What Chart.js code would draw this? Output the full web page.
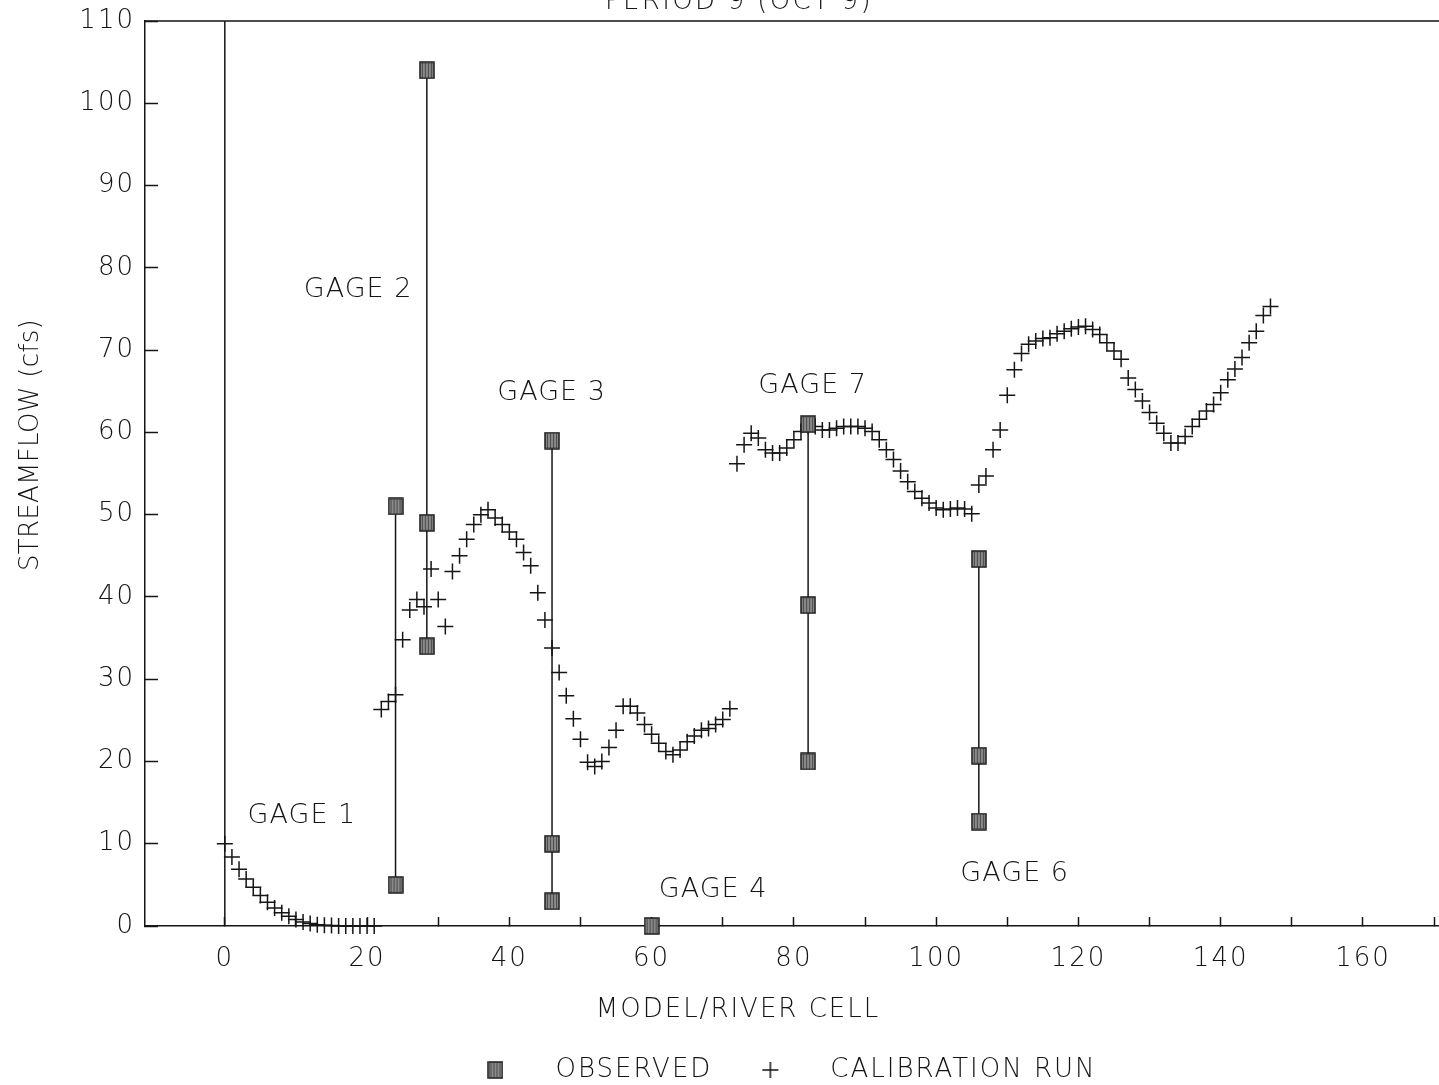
<!DOCTYPE html>
<html><head><meta charset="utf-8">
<script src="https://cdn.jsdelivr.net/npm/chart.js@4.4.1/dist/chart.umd.min.js"></script>
<style>
html,body{margin:0;padding:0;overflow:hidden;background:#fff;width:1439px;height:1085px;}
#c{position:absolute;left:0;top:0;}
</style></head><body>
<canvas id="c" width="1551" height="1093"></canvas>
<script>
// ---------- data ----------
const chartTitle = 'PERIOD 9 (OCT 9)';
const xAxisTitle = 'MODEL/RIVER CELL';
const yAxisTitle = 'STREAMFLOW (cfs)';
const legendLabels = ['OBSERVED', 'CALIBRATION RUN'];

const xTickValues = [0,10,20,30,40,50,60,70,80,90,100,110,120,130,140,150,160,170];
const xLabelledTicks = [0,20,40,60,80,100,120,140,160];
const yTickValues = [0,10,20,30,40,50,60,70,80,90,100,110];

const calibCells = [
  0,1,2,3,4,5,6,7,8,9,10,11,12,13,14,15,16,17,18,19,20,21,
  22,23,24,25,26,27,28,29,30,31,32,33,34,35,36,37,38,39,40,41,42,43,44,45,46,47,48,49,
  50,51,52,53,54,55,56,57,58,59,60,61,62,63,64,65,66,67,68,69,70,71,
  72,73,74,75,76,77,78,79,80,81,82,83,84,85,86,87,88,89,90,91,92,93,94,95,96,97,98,99,
  100,101,102,103,104,105,
  106,107,108,109,110,111,112,113,114,115,116,117,118,119,120,121,122,123,124,125,126,127,
  128,129,130,131,132,133,134,135,136,137,138,139,140,141,142,143,144,145,146,147];
const calibFlow = [
  10.0,8.4,6.9,5.7,4.7,3.7,2.9,2.2,1.6,1.2,0.8,0.5,0.3,0.15,0.1,0.05,0,0,0,0,0,0,
  26.3,27.3,28.1,34.8,38.4,39.7,38.8,43.4,39.7,36.4,43.1,45.0,47.0,48.8,50.0,50.6,49.6,48.8,47.9,47.0,45.4,43.8,40.5,37.2,33.8,30.8,28.0,25.2,
  22.7,19.9,19.4,20.0,21.7,23.8,26.7,26.7,25.9,24.5,23.3,22.2,21.2,20.8,21.4,22.4,23.1,23.8,24.0,24.5,25.1,26.4,
  56.2,58.5,59.9,59.3,57.9,57.5,57.5,58.1,59.1,60.1,60.8,60.7,60.3,60.3,60.5,60.7,60.7,60.7,60.5,60.1,59.1,57.9,56.7,55.3,54.0,52.8,52.0,51.4,
  50.8,50.6,50.7,50.8,50.7,50.1,
  53.6,54.7,57.9,60.3,64.5,67.6,69.6,70.7,71.1,71.4,71.5,72.0,72.3,72.6,72.8,72.9,72.5,71.9,70.9,69.9,68.9,66.6,
  65.2,63.8,62.4,61.1,59.9,58.7,58.7,59.5,60.7,61.6,62.6,63.4,64.8,66.4,67.7,69.1,70.9,72.3,74.2,75.3];

const obsCells = [24,24,28.4,28.4,28.4,46,46,46,60,82,82,82,106,106,106];
const obsFlow  = [51,5,104,49,34,59,10,3,0,61,39,20,44.6,20.7,12.7];

// vertical range lines at the gages
const rangeCells = [0,24,28.4,46,82,106];
const rangeLow   = [0,5,34,3,20,12.7];
const rangeHigh  = [110,51,104,59,61,44.6];

const gageNames = ['GAGE 1','GAGE 2','GAGE 3','GAGE 4','GAGE 7','GAGE 6'];
const gageLabelCells = [3.2,11.1,38.3,61.0,75.0,103.4];
const gageLabelFlows = [12.5,76.5,63.9,3.5,64.8,5.5];

// ---------- styling ----------
const FONT = '"DejaVu Sans ExtraLight", "DejaVu Sans"';
const WEIGHT = 200;
const INK = '#151515';
const SPACING = '2px';

function squareIcon(){
  const c = document.createElement('canvas'); c.width = 16; c.height = 18;
  const g = c.getContext('2d');
  g.fillStyle = '#8a8a8a'; g.fillRect(1,1,14,16);
  g.strokeStyle = '#4a4a4a'; g.lineWidth = 1;
  for (let i = 3; i < 15; i += 3){ g.beginPath(); g.moveTo(i+0.5,2); g.lineTo(i+0.5,16); g.stroke(); }
  g.strokeStyle = '#1a1a1a'; g.lineWidth = 1.5; g.strokeRect(1,1,14,16);
  return c;
}
function plusIcon(){
  const c = document.createElement('canvas'); c.width = 18; c.height = 18;
  const g = c.getContext('2d');
  g.strokeStyle = INK; g.lineWidth = 1.5;
  g.beginPath(); g.moveTo(1,9); g.lineTo(17,9); g.moveTo(9,1); g.lineTo(9,17); g.stroke();
  return c;
}
const SQ = squareIcon(), PL = plusIcon();

const datasets = [];
datasets.push({
  label: legendLabels[0],
  data: obsCells.map((x,i)=>({x, y: obsFlow[i]})),
  pointStyle: SQ, pointRadius: 8, showLine: false, order: 1, clip: false
});
datasets.push({
  label: legendLabels[1],
  data: calibCells.map((x,i)=>({x, y: calibFlow[i]})),
  pointStyle: 'cross', pointRadius: 8, pointBorderWidth: 1.5,
  borderColor: INK, backgroundColor: INK, showLine: false, order: 2, clip: false
});
rangeCells.forEach((x,i)=>{
  datasets.push({
    label: 'range'+i,
    data: [{x, y: rangeLow[i]}, {x, y: rangeHigh[i]}],
    showLine: true, pointRadius: 0, borderColor: INK, borderWidth: 1.5, order: 3
  });
});

const spacing = {
  id: 'spacing',
  beforeInit(chart){ chart.ctx.letterSpacing = SPACING; },
  beforeLayout(chart){ chart.ctx.letterSpacing = SPACING; },
  beforeDraw(chart){ chart.ctx.letterSpacing = SPACING; }
};

const overlay = {
  id: 'overlay',
  afterDraw(chart){
    const {ctx, chartArea: a, scales: {x, y}} = chart;
    ctx.save();
    ctx.strokeStyle = INK; ctx.lineWidth = 1.5;
    ctx.beginPath();
    ctx.moveTo(a.left, a.top); ctx.lineTo(a.right, a.top); ctx.lineTo(a.right, a.bottom);
    ctx.stroke();
    ctx.fillStyle = INK;
    ctx.font = WEIGHT + ' 26px ' + FONT;
    ctx.textAlign = 'center'; ctx.textBaseline = 'alphabetic';
    ctx.letterSpacing = '2.3px';
    ctx.fillText(chartTitle, 739, 9);
    ctx.letterSpacing = '2px';
    ctx.fillText(xAxisTitle, 738, 1017);
    ctx.save();
    ctx.letterSpacing = '0.3px';
    ctx.translate(38, 445); ctx.rotate(-Math.PI/2);
    ctx.fillText(yAxisTitle, 0, 0);
    ctx.restore();
    ctx.font = WEIGHT + ' 27px ' + FONT;
    ctx.letterSpacing = '1px';
    ctx.textAlign = 'left';
    gageNames.forEach((t,i)=>{
      ctx.fillText(t, x.getPixelForValue(gageLabelCells[i]), y.getPixelForValue(gageLabelFlows[i]));
    });
    ctx.restore();
    ctx.letterSpacing = SPACING;
  }
};

new Chart(document.getElementById('c'), {
  type: 'scatter',
  data: { datasets },
  plugins: [spacing, overlay],
  options: {
    responsive: false, animation: false, devicePixelRatio: 1,
    layout: { padding: { top: 21, right: 6, left: 0, bottom: 0 } },
    plugins: {
      tooltip: { enabled: false },
      title: { display: false },
      legend: {
        display: true, position: 'bottom',
        labels: {
          usePointStyle: true, pointStyleWidth: 94, padding: 11,
          color: INK, font: { family: FONT, size: 26, weight: WEIGHT },
          generateLabels: () => [
            { text: legendLabels[0], pointStyle: SQ, fillStyle: '#8a8a8a', strokeStyle: INK, lineWidth: 0, hidden: false, datasetIndex: 0, fontColor: INK },
            { text: legendLabels[1], pointStyle: PL, fillStyle: INK, strokeStyle: INK, lineWidth: 0, hidden: false, datasetIndex: 1, fontColor: INK }
          ]
        }
      }
    },
    scales: {
      x: {
        type: 'linear', min: -11.22, max: 185.1,
        afterBuildTicks: s => { s.ticks = xTickValues.map(v => ({ value: v })); },
        afterFit: s => { s.height = 120; s.paddingLeft = 0; s.paddingRight = 0; },
        ticks: {
          autoSkip: false, maxRotation: 0, padding: 27, color: INK,
          font: { family: FONT, size: 26, weight: WEIGHT },
          callback: v => xLabelledTicks.includes(v) ? String(v) : ''
        },
        grid: { drawOnChartArea: false, drawTicks: true, tickLength: -9, tickWidth: 1.5, tickColor: INK },
        border: { color: INK, width: 1.5 },
        title: { display: false }
      },
      y: {
        type: 'linear', min: 0, max: 110,
        afterBuildTicks: s => { s.ticks = yTickValues.map(v => ({ value: v })); },
        afterFit: s => { s.width = 145; s.paddingTop = 0; s.paddingBottom = 0; },
        ticks: { padding: 23, color: INK, font: { family: FONT, size: 26, weight: WEIGHT }, callback: v => String(v) },
        grid: { drawOnChartArea: false, drawTicks: true, tickLength: -13, tickWidth: 1.5, tickColor: INK },
        border: { color: INK, width: 1.5 },
        title: { display: false }
      }
    }
  }
});
</script>
</body></html>
